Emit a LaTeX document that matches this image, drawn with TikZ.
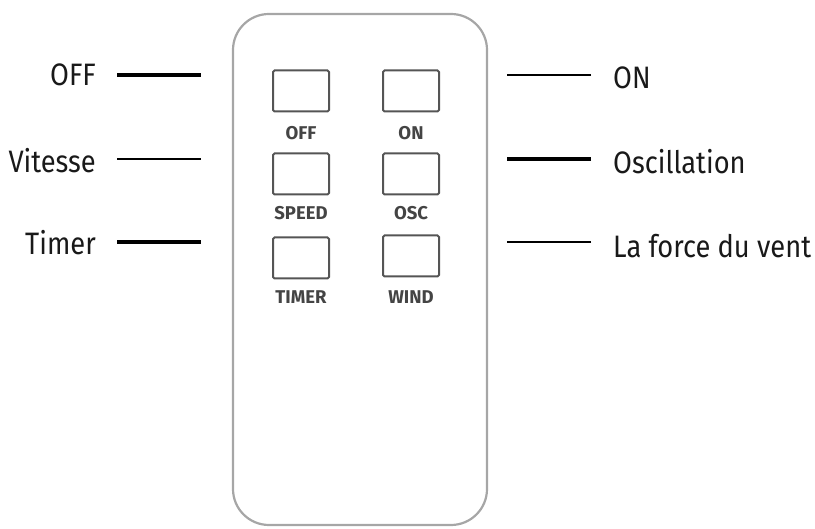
\documentclass[tikz,border=0pt]{standalone}
\usepackage{fontspec}
\setmainfont{Fira Sans}[FakeStretch=0.88]
\newfontfamily\keyfont{Fira Sans}
\usetikzlibrary{positioning}
\definecolor{casegray}{HTML}{A6A6A6}
\definecolor{keygray}{HTML}{555555}
\begin{document}
\begin{tikzpicture}
    [x=1pt, y=-1pt,
     remote/.style = {draw=casegray, line width=2.2pt, rounded corners=36pt},
     key/.style = {draw=keygray, line width=2pt, rounded corners=1.5pt, minimum width=56pt, minimum height=41pt, inner sep=0pt},
     keylabel/.style = {font=\keyfont\bfseries\fontsize{18.5}{18.5}\selectfont, text=keygray!80!black, inner sep=0pt},
     callout/.style = {font=\fontsize{31}{31}\selectfont, text=black!90, inner sep=0pt},
     heavy/.style = {line width=4pt},
     light/.style = {line width=2.6pt}]
    \useasboundingbox (0,0) rectangle (815,529);
    % remote body
    \draw[remote] (233,14) rectangle (487,525);
    % keys
    \node[key] (off) at (301,91) {};
    \node[key] (on) at (411,91) {};
    \node[key] (speed) at (301,174) {};
    \node[key] (osc) at (411,174) {};
    \node[key] (timer) at (301,258) {};
    \node[key] (wind) at (411,256) {};
    \node[keylabel] (offtxt) at (301,133) {OFF};
    \node[keylabel] (ontxt) at (411,133) {ON};
    \node[keylabel] (speedtxt) at (301,213) {SPEED};
    \node[keylabel] (osctxt) at (411,213) {OSC};
    \node[keylabel] (timertxt) at (301,297) {TIMER};
    \node[keylabel] (windtxt) at (411,297) {WIND};
    % callouts, left
    \node[callout, anchor=east] (lbloff) at (96,75) {OFF};
    \node[callout, anchor=east] (lblspeed) at (96,161) {Vitesse};
    \node[callout, anchor=east] (lbltimer) at (96,243) {Timer};
    \coordinate (endoff) at (201,75);
    \coordinate (endspeed) at (201,159);
    \coordinate (endtimer) at (201,242);
    \draw[heavy, shorten <=21pt] (lbloff.east) -- (endoff);
    \draw[light, shorten <=21pt] (lbloff.east |- endspeed) -- (endspeed);
    \draw[heavy, shorten <=21pt] (lbloff.east |- endtimer) -- (endtimer);
    % callouts, right
    \node[callout, anchor=west] (lblon) at (613,78) {ON};
    \node[callout, anchor=west] (lblosc) at (613,162) {Oscillation};
    \node[callout, anchor=west] (lblwind) at (613,246) {La force du vent};
    \coordinate (endon) at (507,75);
    \coordinate (endosc) at (507,159);
    \coordinate (endwind) at (507,242);
    \draw[light, shorten <=22pt] (lblon.west |- endon) -- (endon);
    \draw[heavy, shorten <=22pt] (lblon.west |- endosc) -- (endosc);
    \draw[light, shorten <=22pt] (lblon.west |- endwind) -- (endwind);
\end{tikzpicture}
\end{document}
